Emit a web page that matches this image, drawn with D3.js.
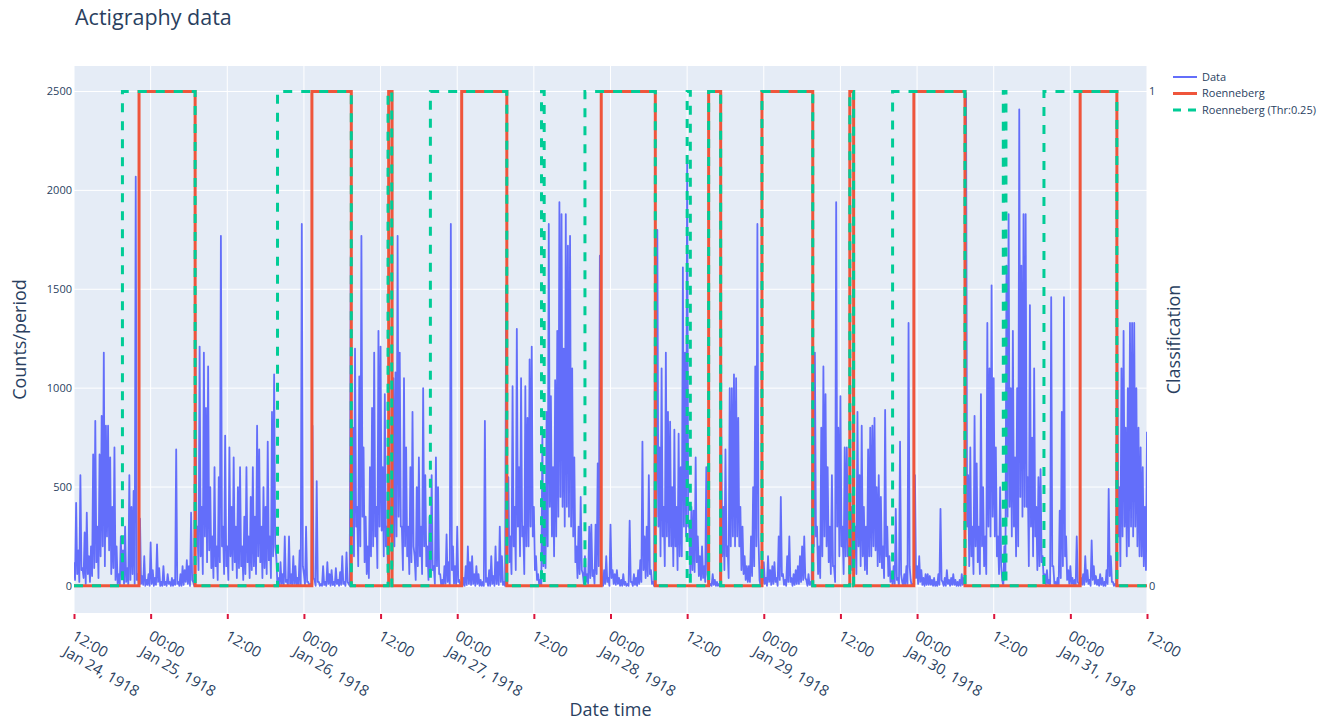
<!DOCTYPE html>
<html>
<head>
<meta charset="utf-8">
<script src="https://cdn.jsdelivr.net/npm/d3@7"></script>
<style>
  body { margin: 0; background: #fff; }
  text { font-family: "Open Sans", verdana, arial, sans-serif; fill: #2a3f5f; }
</style>
</head>
<body>
<div id="chart"></div>
<script>
// activity peaks, one value every 20 minutes from Jan 24 1918 12:00
const counts = [
  // Jan 24 12:00 -> Jan 25 12:00
  120,420,180, 560,90,270, 370,150,200, 665,835,300, 665,860,1180, 810,810,650,
  400,700,200, 60,250,180, 300,90,560, 400,480,2070, 60,340,50, 150,30,60,
  220,80,40, 210,90,20, 100,20,60, 20,40,30, 690,20,60, 100,80,130,
  100,370,20, 1380,300,1210, 400,1180,900, 1110,500,250, 600,200,550, 1770,300,760,
  // Jan 25 12:00 -> Jan 26 12:00
  200,700,400, 650,300,500, 600,200,350, 600,250,450, 600,350,810, 690,300,500,
  400,730,250, 880,1070,150, 40,120,60, 250,30,250, 60,150,100, 40,180,1830,
  60,300,20, 10,810,30, 530,20,10, 100,20,120, 60,80,20, 90,30,70,
  150,20,170, 10,1670,800, 1200,400,1060, 1770,700,350, 200,600,900, 1180,400,1290,
  // Jan 26 12:00 -> Jan 27 12:00
  1210,600,970, 300,1200,400, 1050,1080,1770, 1180,300,1050, 700,300,600, 880,150,500,
  650,300,1000, 560,200,350, 560,100,650, 500,60,30, 100,260,120, 1830,200,100,
  300,30,20, 40,100,200, 120,150,60, 100,60,30, 20,835,40, 80,150,50,
  200,120,300, 150,20,1520, 550,250,1010, 400,1300,600, 1050,300,1010, 850,1145,1210,
  // Jan 27 12:00 -> Jan 28 12:00
  400,150,60, 30,760,500, 880,1830,960, 600,1040,1290, 1940,1880,1200, 1880,1720,1770,
  1100,650,200, 300,450,60, 150,60,300, 310,80,310, 620,1670,30, 80,150,40,
  310,80,60, 80,40,30, 60,20,10, 330,20,60, 40,80,130, 730,250,300,
  560,80,20, 1880,1800,700, 1100,400,1180, 880,830,500, 790,400,770, 600,1610,1180,
  // Jan 28 12:00 -> Jan 29 12:00
  2140,300,400, 380,650,250, 150,200,100, 600,20,10, 60,30,20, 10,810,400,
  690,200,1000, 1000,1070,1050, 850,400,300, 150,100,100, 250,500,1110, 1830,30,100,
  120,40,150, 80,100,120, 40,250,450, 60,30,150, 250,40,60, 80,100,150,
  200,250,30, 60,20,1300, 1180,300,200, 800,1110,970, 600,300,560, 100,1940,800,
  // Jan 29 12:00 -> Jan 30 12:00
  960,300,700, 700,200,400, 1140,300,880, 560,810,400, 300,690,800, 810,850,500,
  560,450,200, 890,300,150, 60,100,390, 40,730,20, 60,100,1330, 30,10,560,
  100,150,80, 40,60,60, 50,30,40, 20,60,390, 20,40,80, 30,40,60,
  30,20,30, 60,40,2490, 560,700,300, 860,620,300, 970,500,250, 1330,1100,1520,
  // Jan 30 12:00 -> Jan 31 12:00
  1050,700,250, 500,30,200, 1620,1880,1000, 1290,650,1000, 2410,1620,1880, 1880,550,1420,
  750,1100,400, 550,590,150, 60,80,30, 1460,100,20, 40,380,880, 1460,250,80,
  100,40,30, 250,10,40, 60,150,80, 30,230,100, 50,30,60, 40,20,80,
  490,150,20, 10,1330,500, 1100,1290,800, 1000,1330,1330, 1330,1000,800, 700,600,400,
  780
]

// activity troughs, 10 minutes after each peak above (lower edge of the blue band)
const troughs = [
  // Jan 24 12:00 -> Jan 25 12:00
  30,60,20, 80,40,10, 60,20,50, 90,120,40, 150,200,100, 250,180,60,
  90,30,10, 5,40,10, 20,5,30, 60,10,30, 0,10,5, 0,5,0,
  10,0,5, 20,0,0, 5,0,10, 0,0,5, 10,0,0, 5,20,10,
  0,30,0, 200,80,150, 60,250,120, 180,90,40, 100,30,120, 200,60,100,
  // Jan 25 12:00 -> Jan 26 12:00
  30,150,80, 120,40,90, 100,30,60, 120,40,80, 100,60,150, 120,40,90,
  60,130,40, 150,200,20, 0,10,0, 20,0,10, 0,10,0, 5,0,100,
  0,20,0, 0,40,0, 20,0,0, 5,0,10, 0,5,0, 10,0,5,
  10,0,20, 0,250,150, 300,100,200, 350,120,60, 40,150,200, 250,90,300,
  // Jan 26 12:00 -> Jan 27 12:00
  280,150,200, 60,250,100, 200,250,350, 300,80,200, 150,60,120, 200,30,100,
  150,60,200, 100,30,60, 80,10,100, 60,0,0, 10,20,0, 80,10,0,
  20,0,0, 0,5,10, 5,10,0, 10,0,0, 0,20,0, 0,10,0,
  10,5,20, 5,0,250, 120,60,200, 80,300,150, 250,60,200, 200,300,250,
  // Jan 27 12:00 -> Jan 28 12:00
  80,30,5, 0,100,90, 200,400,250, 150,250,350, 450,400,300, 400,350,300,
  250,120,40, 60,80,10, 20,10,40, 50,10,60, 100,150,0, 10,20,0,
  40,10,5, 10,0,0, 5,0,0, 20,0,5, 0,10,20, 80,40,50,
  60,10,0, 350,300,150, 250,100,250, 200,200,100, 200,80,150, 150,300,250,
  // Jan 28 12:00 -> Jan 29 12:00
  300,60,80, 70,120,50, 30,40,20, 60,0,0, 5,0,0, 0,150,80,
  150,40,200, 250,200,250, 200,80,60, 30,20,20, 50,100,200, 250,0,10,
  10,0,20, 5,10,20, 0,30,50, 5,0,20, 20,0,5, 10,10,20,
  30,40,0, 5,0,200, 250,60,40, 150,250,200, 120,60,100, 20,300,150,
  // Jan 29 12:00 -> Jan 30 12:00
  200,60,150, 150,40,80, 250,60,200, 100,150,80, 60,150,150, 200,180,100,
  120,90,40, 150,50,20, 5,10,30, 0,60,0, 5,10,100, 0,0,40,
  10,20,5, 0,5,5, 5,0,0, 0,5,30, 0,0,10, 0,5,5,
  0,0,0, 5,0,300, 100,150,60, 200,120,60, 200,100,60, 300,250,350,
  // Jan 30 12:00 -> Jan 31 12:00
  250,150,60, 100,0,40, 350,400,250, 300,150,200, 450,350,400, 400,100,300,
  150,250,80, 100,120,20, 5,10,0, 100,10,0, 0,40,100, 150,30,10,
  10,0,0, 20,0,5, 5,20,10, 0,30,10, 5,0,5, 0,0,10,
  50,20,0, 0,250,100, 250,300,150, 200,300,250, 300,200,150, 150,100,80
]

// sleep/wake classification change points (state holds until the next one)
const roennebergTimes = [
  "1918-01-24 12:00", "1918-01-24 22:11", "1918-01-25 06:58", "1918-01-26 01:15", "1918-01-26 07:25",
  "1918-01-26 13:16", "1918-01-26 13:48", "1918-01-27 00:42", "1918-01-27 07:46", "1918-01-27 22:33",
  "1918-01-28 07:01", "1918-01-28 15:22", "1918-01-28 17:15", "1918-01-28 23:43", "1918-01-29 07:40",
  "1918-01-29 13:28", "1918-01-29 14:04", "1918-01-29 23:30", "1918-01-30 07:30", "1918-01-31 01:32",
  "1918-01-31 07:17", "1918-01-31 12:00"
]
const roennebergStates = [0,1,0,1,0, 1,0,1,0,1, 0,1,0,1,0, 1,0,1,0,1, 0,0]

const thrTimes = [
  "1918-01-24 12:00", "1918-01-24 19:35", "1918-01-25 06:58", "1918-01-25 19:52", "1918-01-26 07:25",
  "1918-01-26 13:10", "1918-01-26 13:45", "1918-01-26 19:48", "1918-01-27 07:46", "1918-01-27 13:12",
  "1918-01-27 13:37", "1918-01-27 20:00", "1918-01-28 07:01", "1918-01-28 12:00", "1918-01-28 12:30",
  "1918-01-28 15:22", "1918-01-28 17:15", "1918-01-28 23:43", "1918-01-29 07:40", "1918-01-29 13:28",
  "1918-01-29 14:04", "1918-01-29 20:10", "1918-01-30 07:30", "1918-01-30 13:30", "1918-01-30 13:55",
  "1918-01-30 19:52", "1918-01-31 07:17", "1918-01-31 12:00"
]
const thrStates = [0,1,0,1,0, 1,0,1,0,1, 0,1,0,1,0, 1,0,1,0,1, 0,1,0,1,0, 1,0,0]

const countTicks = [0, 500, 1000, 1500, 2000, 2500]
const classTicks = [0, 1]

const width = 1334, height = 721
const margin = {top: 66, bottom: 108, left: 74, right: 187}
const w = width - margin.left - margin.right
const h = height - margin.top - margin.bottom

const parse = d3.timeParse("%Y-%m-%d %H:%M")
const start = parse("1918-01-24 12:00")
let data = []
counts.forEach((v, i) => {
    data.push({t: d3.timeMinute.offset(start, i * 20), v: v})
    if (i < troughs.length) data.push({t: d3.timeMinute.offset(start, i * 20 + 10), v: troughs[i]})
})
const roenneberg = roennebergTimes.map((t, i) => ({t: parse(t), v: roennebergStates[i]}))
const thr = thrTimes.map((t, i) => ({t: parse(t), v: thrStates[i]}))

let svg = d3.select("#chart").append("svg")
    .attr("width", width)
    .attr("height", height)

let xScale = d3.scaleTime()
    .domain([start, parse("1918-01-31 12:00")])
    .range([0, w])
let yScale = d3.scaleLinear().domain([-137, 2629]).range([h, 0])
let y2Scale = d3.scaleLinear().domain([-0.0552, 1.0515]).range([h, 0])

let plot = svg.append("g")
    .attr("transform", "translate(" + margin.left + "," + margin.top + ")")

plot.append("rect")
    .attr("width", w)
    .attr("height", h)
    .attr("fill", "#e5ecf6")

plot.append("clipPath").attr("id", "clip")
    .append("rect").attr("width", w).attr("height", h)

let xTicks = xScale.ticks(d3.timeHour.every(12))

// grid
plot.append("g").selectAll("line")
    .data(xTicks)
    .join("line")
    .attr("x1", d => xScale(d)).attr("x2", d => xScale(d))
    .attr("y1", 0).attr("y2", h)
    .attr("stroke", "#fff").attr("stroke-width", 1)

plot.append("g").selectAll("line")
    .data(countTicks)
    .join("line")
    .attr("x1", 0).attr("x2", w)
    .attr("y1", d => yScale(d)).attr("y2", d => yScale(d))
    .attr("stroke", "#fff").attr("stroke-width", d => d === 0 ? 2 : 1)

// x axis
let xAxis = plot.append("g")
    .attr("transform", "translate(0," + h + ")")
    .call(d3.axisBottom(xScale).tickValues(xTicks).tickSize(6).tickFormat(""))
xAxis.select(".domain").remove()
xAxis.selectAll(".tick line").attr("stroke", "crimson").attr("stroke-width", 2).attr("y1", 1)

let fmtHour = d3.timeFormat("%H:%M")
let fmtDay = d3.timeFormat("%b %-d, %Y")
xTicks.forEach((d, i) => {
    let t = plot.append("text")
        .attr("transform", "translate(" + (xScale(d) - 3) + "," + (h + 26) + ") rotate(30)")
        .style("font-size", "15px")
    t.append("tspan").attr("x", 0).text(fmtHour(d))
    if (i === 0 || d.getHours() === 0) {
        t.append("tspan").attr("x", 0).attr("dy", "1.2em").text(fmtDay(d))
    }
})

// y axes labels
plot.append("g").selectAll("text")
    .data(countTicks)
    .join("text")
    .attr("x", -2)
    .attr("y", d => yScale(d))
    .attr("dy", "0.35em")
    .style("text-anchor", "end")
    .style("font-size", "11px")
    .text(d => d)

plot.append("g").selectAll("text")
    .data(classTicks)
    .join("text")
    .attr("x", w + 2)
    .attr("y", d => y2Scale(d))
    .attr("dy", "0.35em")
    .style("font-size", "11px")
    .text(d => d)

// series
let lines = plot.append("g").attr("clip-path", "url(#clip)")

let dataLine = d3.line().x(d => xScale(d.t)).y(d => yScale(d.v))
let stepLine = d3.line().x(d => xScale(d.t)).y(d => y2Scale(d.v)).curve(d3.curveStepAfter)

lines.append("path").datum(data)
    .attr("d", dataLine)
    .attr("fill", "none").attr("stroke", "#636efa").attr("stroke-width", 1.8)
    .attr("stroke-linejoin", "round")

lines.append("path").datum(roenneberg)
    .attr("d", stepLine)
    .attr("fill", "none").attr("stroke", "#ef553b").attr("stroke-width", 3)

lines.append("path").datum(thr)
    .attr("d", stepLine)
    .attr("fill", "none").attr("stroke", "#00cc96").attr("stroke-width", 3)
    .attr("stroke-dasharray", "9,9")

// titles
svg.append("text")
    .attr("x", 75).attr("y", 25)
    .style("font-size", "21.5px")
    .text("Actigraphy data")

svg.append("text")
    .attr("transform", "translate(26," + (margin.top + h / 2) + ") rotate(-90)")
    .style("text-anchor", "middle")
    .style("font-size", "18px")
    .text("Counts/period")

svg.append("text")
    .attr("transform", "translate(1180," + (margin.top + h / 2) + ") rotate(-90)")
    .style("text-anchor", "middle")
    .style("font-size", "18px")
    .text("Classification")

svg.append("text")
    .attr("x", margin.left + w / 2).attr("y", 716)
    .style("text-anchor", "middle")
    .style("font-size", "18px")
    .text("Date time")

// legend
const legendItems = [
    {name: "Data", color: "#636efa", dash: null, width: 2},
    {name: "Roenneberg", color: "#ef553b", dash: null, width: 3},
    {name: "Roenneberg (Thr:0.25)", color: "#00cc96", dash: "8,7", width: 3}
]
let legend = svg.append("g").attr("transform", "translate(1173,77)")
legendItems.forEach((d, i) => {
    let row = legend.append("g").attr("transform", "translate(0," + (i * 16.5) + ")")
    row.append("line")
        .attr("x1", 0).attr("x2", 24)
        .attr("stroke", d.color).attr("stroke-width", d.width)
        .attr("stroke-dasharray", d.dash)
    row.append("text")
        .attr("x", 29).attr("dy", "0.35em")
        .style("font-size", "11px")
        .text(d.name)
})
</script>
</body>
</html>
